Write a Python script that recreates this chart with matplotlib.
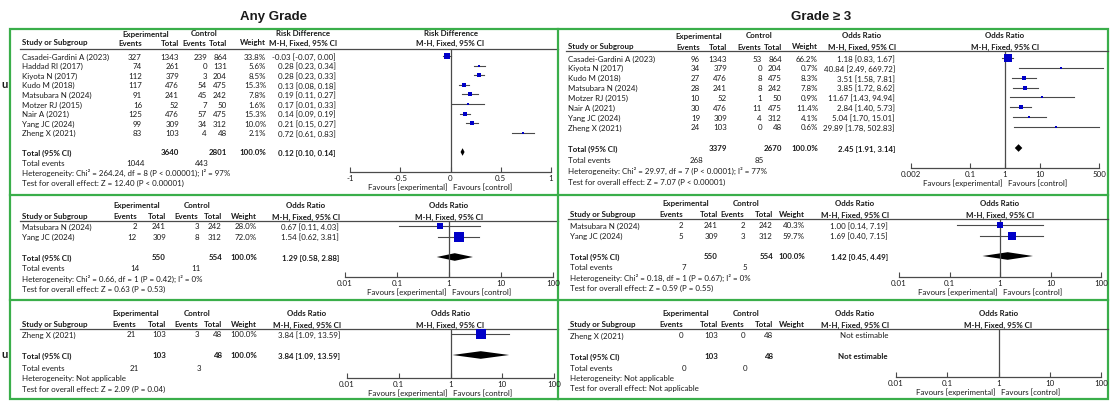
import numpy as np
import matplotlib.pyplot as plt
from matplotlib.patches import Rectangle

plt.rcParams['font.family'] = ['Lato', 'DejaVu Sans']

# ---- data: Any Grade, all studies (risk difference)
studies_a = ["Casadei-Gardini A (2023)", "Haddad RI (2017)", "Kiyota N (2017)", "Kudo M (2018)",
             "Matsubara N (2024)", "Motzer RJ (2015)", "Nair A (2021)", "Yang JC (2024)", "Zheng X (2021)"]
exp_events_a = [327, 74, 112, 117, 91, 16, 125, 99, 83]
exp_total_a = [1343, 261, 379, 476, 241, 52, 476, 309, 103]
ctl_events_a = [239, 0, 3, 54, 45, 7, 57, 34, 4]
ctl_total_a = [864, 131, 204, 475, 242, 50, 475, 312, 48]
weight_a = [33.8, 5.6, 8.5, 15.3, 7.8, 1.6, 15.3, 10.0, 2.1]
est_a = [-0.03, 0.28, 0.28, 0.13, 0.19, 0.17, 0.14, 0.21, 0.72]
lo_a = [-0.07, 0.23, 0.23, 0.08, 0.11, 0.01, 0.09, 0.15, 0.61]
hi_a = [0.00, 0.34, 0.33, 0.18, 0.27, 0.33, 0.19, 0.27, 0.83]
total_a = [3640, 2801, 1044, 443, 0.12, 0.10, 0.14]
het_a = "Heterogeneity: Chi² = 264.24, df = 8 (P < 0.00001); I² = 97%"
test_a = "Test for overall effect: Z = 12.40 (P < 0.00001)"

# ---- Grade >= 3, all studies (odds ratio)
studies_b = ["Casadei-Gardini A (2023)", "Kiyota N (2017)", "Kudo M (2018)", "Matsubara N (2024)",
             "Motzer RJ (2015)", "Nair A (2021)", "Yang JC (2024)", "Zheng X (2021)"]
exp_events_b = [96, 34, 27, 28, 10, 30, 19, 24]
exp_total_b = [1343, 379, 476, 241, 52, 476, 309, 103]
ctl_events_b = [53, 0, 8, 8, 1, 11, 4, 0]
ctl_total_b = [864, 204, 475, 242, 50, 475, 312, 48]
weight_b = [66.2, 0.7, 8.3, 7.8, 0.9, 11.4, 4.1, 0.6]
est_b = [1.18, 40.84, 3.51, 3.85, 11.67, 2.84, 5.04, 29.89]
lo_b = [0.83, 2.49, 1.58, 1.72, 1.43, 1.40, 1.70, 1.78]
hi_b = [1.67, 669.72, 7.81, 8.62, 94.94, 5.73, 15.01, 502.83]
total_b = [3379, 2670, 268, 85, 2.45, 1.91, 3.14]
het_b = "Heterogeneity: Chi² = 29.97, df = 7 (P < 0.0001); I² = 77%"
test_b = "Test for overall effect: Z = 7.07 (P < 0.00001)"

# ---- Any grade, second subgroup
studies_c = ["Matsubara N (2024)", "Yang JC (2024)"]
exp_events_c = [2, 12]
exp_total_c = [241, 309]
ctl_events_c = [3, 8]
ctl_total_c = [242, 312]
weight_c = [28.0, 72.0]
est_c = [0.67, 1.54]
lo_c = [0.11, 0.62]
hi_c = [4.03, 3.81]
total_c = [550, 554, 14, 11, 1.29, 0.58, 2.88]
het_c = "Heterogeneity: Chi² = 0.66, df = 1 (P = 0.42); I² = 0%"
test_c = "Test for overall effect: Z = 0.63 (P = 0.53)"

# ---- Grade >= 3, second subgroup
studies_d = ["Matsubara N (2024)", "Yang JC (2024)"]
exp_events_d = [2, 5]
exp_total_d = [241, 309]
ctl_events_d = [2, 3]
ctl_total_d = [242, 312]
weight_d = [40.3, 59.7]
est_d = [1.00, 1.69]
lo_d = [0.14, 0.40]
hi_d = [7.19, 7.15]
total_d = [550, 554, 7, 5, 1.42, 0.45, 4.49]
het_d = "Heterogeneity: Chi² = 0.18, df = 1 (P = 0.67); I² = 0%"
test_d = "Test for overall effect: Z = 0.59 (P = 0.55)"

# ---- Any grade, third subgroup
studies_e = ["Zheng X (2021)"]
exp_events_e = [21]
exp_total_e = [103]
ctl_events_e = [3]
ctl_total_e = [48]
weight_e = [100.0]
est_e = [3.84]
lo_e = [1.09]
hi_e = [13.59]
total_e = [103, 48, 21, 3, 3.84, 1.09, 13.59]
het_e = "Heterogeneity: Not applicable"
test_e = "Test for overall effect: Z = 2.09 (P = 0.04)"

# ---- Grade >= 3, third subgroup (not estimable)
studies_f = ["Zheng X (2021)"]
exp_events_f = [0]
exp_total_f = [103]
ctl_events_f = [0]
ctl_total_f = [48]
weight_f = [None]
est_f = [None]
lo_f = [None]
hi_f = [None]
total_f = [103, 48, 0, 0, None, None, None]
het_f = "Heterogeneity: Not applicable"
test_f = "Test for overall effect: Not applicable"

rd_ticks = [-1, -0.5, 0, 0.5, 1]
rd_labels = ["-1", "-0.5", "0", "0.5", "1"]
or_ticks_wide = [0.002, 0.1, 1, 10, 500]
or_labels_wide = ["0.002", "0.1", "1", "10", "500"]
or_ticks = [0.01, 0.1, 1, 10, 100]
or_labels = ["0.01", "0.1", "1", "10", "100"]

W, H = 1110, 402
fig = plt.figure(figsize=(W / 100, H / 100), dpi=100)
bg = fig.add_axes([0, 0, 1, 1])
bg.set_xlim(0, W)
bg.set_ylim(H, 0)
bg.axis('off')

FS = 5.7
INK = '#1a1a1a'
GRAY = '#4a4a4a'
BLUE = '#0000c8'
GREEN = '#3aae4a'


def fmt(v):
    return f"{v:.2f}"


def ci_text(e, l, h):
    if e is None:
        return "Not estimable"
    return f"{fmt(e)} [{fmt(l)}, {fmt(h)}]"


def t(x, y, s, ha='left', bold=False, size=FS):
    bg.text(x, y, s, ha=ha, va='center', fontsize=size, color=INK,
            fontweight='bold' if bold else 'normal')


def draw_panel(lay, studies, ev_e, tot_e, ev_c, tot_c, weights, est, lo, hi, tot, het, test,
               measure, scale, ticks, labels):
    xs, c_ev, c_te, c_evc, c_tc, c_w, c_ci = lay['cols']
    y_h1, y_h2, y_line = lay['head']
    # header
    t((c_ev - 26 + c_te) / 2 - 2, y_h1, "Experimental", ha='center', bold=True)
    t((c_evc - 26 + c_tc) / 2, y_h1, "Control", ha='center', bold=True)
    t(c_ci - 33, y_h1, measure, ha='center', bold=True)
    t(xs, y_h2, "Study or Subgroup", bold=True)
    t(c_ev, y_h2, "Events", ha='right', bold=True)
    t(c_te, y_h2, "Total", ha='right', bold=True)
    t(c_evc - 1, y_h2, "Events", ha='right', bold=True)
    t(c_tc, y_h2, "Total", ha='right', bold=True)
    t(c_w, y_h2, "Weight", ha='right', bold=True)
    t(c_ci - 33, y_h2, "M-H, Fixed, 95% CI", ha='center', bold=True)
    bg.plot([xs - 2, lay['right']], [y_line, y_line], color=GRAY, lw=0.9)

    rows_y = lay['row0'] + lay['dy'] * np.arange(len(studies))
    for i, y in enumerate(rows_y):
        t(xs, y, studies[i])
        t(c_ev, y, str(ev_e[i]), ha='right')
        t(c_te, y, str(tot_e[i]), ha='right')
        t(c_evc, y, str(ev_c[i]), ha='right')
        t(c_tc, y, str(tot_c[i]), ha='right')
        if weights[i] is not None:
            t(c_w, y, f"{weights[i]:.1f}%", ha='right')
        t(c_ci, y, ci_text(est[i], lo[i], hi[i]), ha='right')

    y_tot, y_ev, y_het, y_test = lay['foot']
    t(xs, y_tot, "Total (95% CI)", bold=True)
    t(c_te, y_tot, str(tot[0]), ha='right', bold=True)
    t(c_tc, y_tot, str(tot[1]), ha='right', bold=True)
    if tot[4] is not None:
        t(c_w, y_tot, "100.0%", ha='right', bold=True)
    t(c_ci, y_tot, ci_text(tot[4], tot[5], tot[6]), ha='right', bold=True)
    t(xs, y_ev, "Total events")
    t(c_ev + 3, y_ev, str(tot[2]), ha='right')
    t(c_evc + 2, y_ev, str(tot[3]), ha='right')
    t(xs, y_het, het)
    t(xs, y_test, test)

    # forest plot
    x0, x1 = lay['px']
    y_ax = lay['axis']
    ax = fig.add_axes([x0 / W, 1 - y_ax / H, (x1 - x0) / W, (y_ax - y_line) / H])
    ax.set_xscale(scale)
    ax.set_xlim(ticks[0], ticks[-1])
    ax.set_ylim(y_ax, y_line)
    ax.patch.set_alpha(0)
    for s in ['top', 'left', 'right']:
        ax.spines[s].set_visible(False)
    ax.spines['bottom'].set_color(GRAY)
    ax.spines['bottom'].set_linewidth(0.9)
    ax.set_yticks([])
    ax.set_xticks(ticks)
    ax.set_xticklabels(labels, fontsize=FS, color=INK)
    ax.minorticks_off()
    ax.tick_params(axis='x', direction='in', length=3.5, width=0.8, color=GRAY, pad=1.5)
    null = 0 if scale == 'linear' else 1
    ax.axvline(null, color=GRAY, lw=0.9)
    for y, e, l, h, w in zip(rows_y, est, lo, hi, weights):
        if e is None:
            continue
        ax.plot([l, h], [y, y], color=GRAY, lw=0.8, clip_on=False)
        side = max(1.08 * np.sqrt(w), 2.2) * 0.72
        ax.plot(e, y, marker='s', ms=side, color=BLUE, mec=BLUE, mew=0, clip_on=False)
    if tot[4] is not None:
        ax.fill([tot[5], tot[4], tot[6], tot[4]], [y_tot, y_tot - 3.8, y_tot, y_tot + 3.8],
                color='black', lw=0)
    ax.annotate("Favours [experimental]", xy=(null, 0), xycoords=('data', 'axes fraction'),
                xytext=(-2, -10.5), textcoords='offset points', ha='right', va='center',
                fontsize=FS, color=INK, annotation_clip=False)
    ax.annotate("Favours [control]", xy=(null, 0), xycoords=('data', 'axes fraction'),
                xytext=(2, -10.5), textcoords='offset points', ha='left', va='center',
                fontsize=FS, color=INK, annotation_clip=False)
    xm = (x0 + x1) / 2
    t(xm, y_h1, measure, ha='center', bold=True)
    t(xm, y_h2, "M-H, Fixed, 95% CI", ha='center', bold=True)


lay_a = dict(cols=(22, 142, 179, 207, 227, 266, 336), head=(34, 43, 50), row0=57, dy=9.6,
             foot=(153, 164, 173, 183), px=(350, 551), axis=173, right=558)
lay_b = dict(cols=(568, 700, 727, 762, 782, 818, 895), head=(36, 47, 52), row0=59, dy=9.85,
             foot=(149, 161, 171, 182), px=(911, 1099), axis=169, right=1108)
lay_c = dict(cols=(22, 137, 166, 199, 222, 257, 339), head=(206, 217, 222), row0=227, dy=10.5,
             foot=(258, 269, 279, 289), px=(345, 553), axis=278, right=558)
lay_d = dict(cols=(570, 683, 718, 745, 773, 805, 888), head=(204, 215, 220), row0=226, dy=10.5,
             foot=(257, 268, 278, 288), px=(899, 1101), axis=278, right=1108)
lay_e = dict(cols=(22, 136, 166, 199, 222, 257, 340), head=(314, 325, 330), row0=335, dy=10.5,
             foot=(356, 369, 379, 389), px=(347, 554), axis=379, right=558)
lay_f = dict(cols=(570, 683, 718, 745, 773, 805, 888), head=(314, 325, 330), row0=336, dy=10.5,
             foot=(357, 369, 379, 389), px=(896, 1101), axis=378, right=1108)

draw_panel(lay_a, studies_a, exp_events_a, exp_total_a, ctl_events_a, ctl_total_a, weight_a,
           est_a, lo_a, hi_a, total_a, het_a, test_a, "Risk Difference", 'linear', rd_ticks, rd_labels)
draw_panel(lay_b, studies_b, exp_events_b, exp_total_b, ctl_events_b, ctl_total_b, weight_b,
           est_b, lo_b, hi_b, total_b, het_b, test_b, "Odds Ratio", 'log', or_ticks_wide, or_labels_wide)
draw_panel(lay_c, studies_c, exp_events_c, exp_total_c, ctl_events_c, ctl_total_c, weight_c,
           est_c, lo_c, hi_c, total_c, het_c, test_c, "Odds Ratio", 'log', or_ticks, or_labels)
draw_panel(lay_d, studies_d, exp_events_d, exp_total_d, ctl_events_d, ctl_total_d, weight_d,
           est_d, lo_d, hi_d, total_d, het_d, test_d, "Odds Ratio", 'log', or_ticks, or_labels)
draw_panel(lay_e, studies_e, exp_events_e, exp_total_e, ctl_events_e, ctl_total_e, weight_e,
           est_e, lo_e, hi_e, total_e, het_e, test_e, "Odds Ratio", 'log', or_ticks, or_labels)
draw_panel(lay_f, studies_f, exp_events_f, exp_total_f, ctl_events_f, ctl_total_f, weight_f,
           est_f, lo_f, hi_f, total_f, het_f, test_f, "Odds Ratio", 'log', or_ticks, or_labels)

# green frames
bg.add_patch(Rectangle((10, 30), 1098, 370, fill=False, ec=GREEN, lw=1.6))
bg.plot([558, 558], [30, 400], color=GREEN, lw=1.6)
bg.plot([10, 1108], [196, 196], color=GREEN, lw=1.6)
bg.plot([10, 1108], [301, 301], color=GREEN, lw=1.6)

# column titles
bg.text(273, 17, "Any Grade", ha='center', va='center', fontsize=9.5, fontweight='bold',
        family=['Liberation Sans', 'DejaVu Sans'], color=INK)
bg.text(821, 17, "Grade ≥ 3", ha='center', va='center', fontsize=9.5, fontweight='bold',
        family=['Liberation Sans', 'DejaVu Sans'], color=INK)
# clipped labels at the left edge
bg.text(5, 84, "u", ha='center', va='center', fontsize=8, fontweight='bold', color=INK)
bg.text(5, 355, "u", ha='center', va='center', fontsize=8, fontweight='bold', color=INK)

fig.savefig('out.png', dpi=100)
